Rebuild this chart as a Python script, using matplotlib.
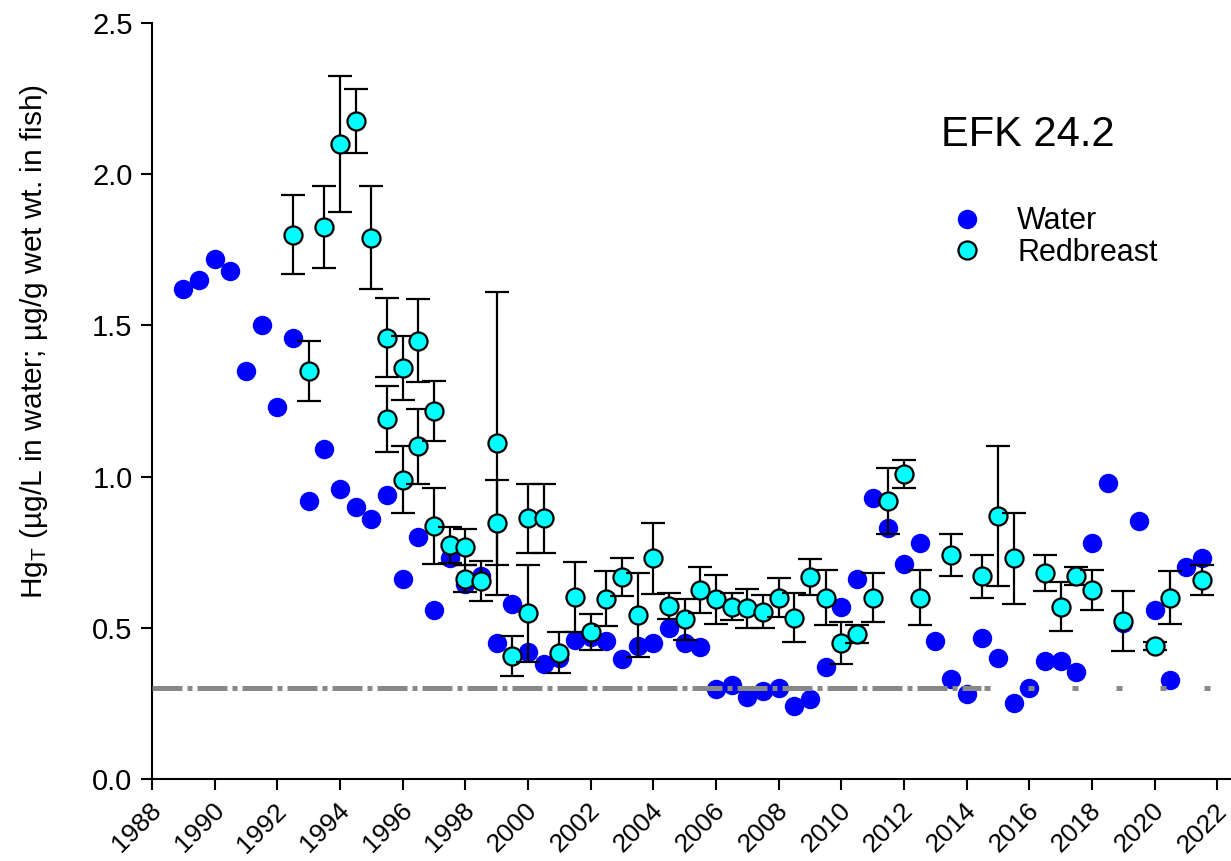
import matplotlib
matplotlib.use("Agg")
import matplotlib.pyplot as plt
import matplotlib.transforms as mtransforms
from matplotlib.lines import Line2D

# fonte parecida com Arial
plt.rcParams['font.family'] = ['Liberation Sans', 'DejaVu Sans']
plt.rcParams['mathtext.fontset'] = 'custom'
plt.rcParams['mathtext.rm'] = 'Liberation Sans'
plt.rcParams['mathtext.it'] = 'Liberation Sans'

# agua (ug/L), amostras semestrais
water_years = [1989, 1989.5, 1990, 1990.5, 1991, 1991.5, 1992, 1992.5, 1993, 1993.5,
               1994, 1994.5, 1995, 1995.5, 1996, 1996.5, 1997, 1997.5, 1998, 1998.5,
               1999, 1999.5, 2000, 2000.5, 2001, 2001.5, 2002, 2002.5, 2003, 2003.5,
               2004, 2004.5, 2005, 2005.5, 2006, 2006.5, 2007, 2007.5, 2008, 2008.5,
               2009, 2009.5, 2010, 2010.5, 2011, 2011.5, 2012, 2012.5, 2013, 2013.5,
               2014, 2014.5, 2015, 2015.5, 2016, 2016.5, 2017, 2017.5, 2018, 2018.5,
               2019, 2019.5, 2020, 2020.5, 2021, 2021.5]
water_hg = [1.62, 1.65, 1.72, 1.68, 1.35, 1.50, 1.23, 1.46, 0.92, 1.09,
            0.96, 0.90, 0.86, 0.94, 0.66, 0.80, 0.56, 0.73, 0.645, 0.67,
            0.45, 0.58, 0.42, 0.38, 0.40, 0.46, 0.47, 0.456, 0.397, 0.44,
            0.45, 0.50, 0.45, 0.435, 0.297, 0.31, 0.27, 0.29, 0.30, 0.24,
            0.265, 0.37, 0.57, 0.66, 0.93, 0.83, 0.71, 0.78, 0.457, 0.33,
            0.28, 0.466, 0.40, 0.25, 0.30, 0.39, 0.39, 0.354, 0.78, 0.98,
            0.515, 0.853, 0.56, 0.327, 0.70, 0.73]

# redbreast sunfish (ug/g peso umido), media e erro padrao
fish_years = [1992.5, 1993, 1993.5, 1994, 1994.5, 1995, 1995.5, 1995.5, 1996, 1996,
              1996.5, 1996.5, 1997, 1997, 1997.5, 1998, 1998, 1998.5, 1999, 1999,
              1999.5, 2000, 2000, 2000.5, 2001, 2001.5, 2002, 2002.5, 2003, 2003.5,
              2004, 2004.5, 2005, 2005.5, 2006, 2006.5, 2007, 2007.5, 2008, 2008.5,
              2009, 2009.5, 2010, 2010.5, 2011, 2011.5, 2012, 2012.5, 2013.5, 2014.5,
              2015, 2015.5, 2016.5, 2017, 2017.5, 2018, 2019, 2020, 2020.5, 2021.5]
fish_hg = [1.80, 1.35, 1.826, 2.10, 2.176, 1.79, 1.46, 1.19, 1.36, 0.99,
           1.45, 1.10, 1.217, 0.836, 0.774, 0.768, 0.663, 0.655, 1.11, 0.848,
           0.407, 0.862, 0.548, 0.862, 0.418, 0.603, 0.487, 0.597, 0.669, 0.542,
           0.73, 0.572, 0.528, 0.625, 0.594, 0.57, 0.564, 0.553, 0.60, 0.534,
           0.669, 0.60, 0.45, 0.48, 0.60, 0.92, 1.01, 0.60, 0.74, 0.67,
           0.87, 0.73, 0.682, 0.57, 0.671, 0.625, 0.522, 0.44, 0.60, 0.658]
fish_err = [0.13, 0.10, 0.135, 0.225, 0.105, 0.17, 0.13, 0.11, 0.106, 0.11,
            0.138, 0.125, 0.10, 0.125, 0.06, 0.06, 0.045, 0.067, 0.50, 0.14,
            0.065, 0.113, 0.16, 0.113, 0.067, 0.116, 0.06, 0.09, 0.063, 0.14,
            0.118, 0.043, 0.068, 0.077, 0.08, 0.045, 0.064, 0.054, 0.064, 0.08,
            0.06, 0.09, 0.07, 0.03, 0.08, 0.11, 0.046, 0.09, 0.07, 0.07,
            0.23, 0.15, 0.06, 0.08, 0.03, 0.067, 0.10, 0.014, 0.088, 0.05]

# linha de referencia
ref_level = 0.3
ref_dashdot = [1988, 2014.45]
ref_dotted = [2014.55, 2021.75]

xticks = list(range(1988, 2023, 2))
yticks = [0.0, 0.5, 1.0, 1.5, 2.0, 2.5]

fig = plt.figure(figsize=(12.31, 8.61), dpi=100)
ax = fig.add_axes([0.1235, 0.0952, 0.8757, 0.878])

ax.plot(water_years, water_hg, 'o', color='#0000FF', markersize=14,
        markeredgewidth=0, zorder=2)

ax.plot(ref_dashdot, [ref_level, ref_level], color='#888888', lw=3.6,
        dashes=(6.0, 1.0, 1.0, 1.0), zorder=3)
ax.plot(ref_dotted, [ref_level, ref_level], color='#888888', lw=3.6,
        dashes=(1.2, 7.6), zorder=3)

# cada ponto na ordem, assim as barras seguintes ficam por cima
for i in range(len(fish_years)):
    ax.errorbar(fish_years[i], fish_hg[i], yerr=fish_err[i], fmt='o',
                color='#00FFFF', markersize=13, markeredgecolor='black',
                markeredgewidth=1.6, ecolor='black', elinewidth=1.6,
                capsize=8.3, capthick=1.6, zorder=4 + 0.3 * i)

ax.set_xlim(1988, 2022.4)
ax.set_ylim(0, 2.5)
ax.set_xticks(xticks)
ax.set_yticks(yticks)
ax.set_yticklabels(['%.1f' % v for v in yticks])
ax.set_xticklabels([str(v) for v in xticks], rotation=45, ha='right',
                   rotation_mode='anchor')

for s in ['top', 'right']:
    ax.spines[s].set_visible(False)
for s in ['left', 'bottom']:
    ax.spines[s].set_linewidth(1.5)
ax.tick_params(axis='both', direction='out', length=8, width=1.5)
ax.tick_params(axis='y', labelsize=21, pad=6)
ax.tick_params(axis='x', labelsize=19, pad=6)

# empurra os rotulos do eixo x um pouco para a esquerda
deslocamento = mtransforms.ScaledTranslation(-3 / 100, 0, fig.dpi_scale_trans)
for lbl in ax.get_xticklabels():
    lbl.set_transform(lbl.get_transform() + deslocamento)

ax.set_ylabel('Hg$_\\mathregular{T}$ (µg/L in water; µg/g wet wt. in fish)',
              fontsize=21.5)
ax.yaxis.set_label_coords(-0.095, 0.579)

fig.text(941 / 1231, 1 - 146 / 861, 'EFK 24.2', fontsize=30, va='baseline')

handles = [
    Line2D([], [], ls='none', marker='o', color='#0000FF', markersize=14,
           markeredgewidth=0),
    Line2D([], [], ls='none', marker='o', markerfacecolor='#00FFFF',
           markeredgecolor='black', markersize=13, markeredgewidth=1.6),
]
fig.legend(handles, ['Water', 'Redbreast'], loc='center left',
           bbox_to_anchor=(953 / 1231, 1 - 237 / 861), frameon=False,
           fontsize=22, handlelength=0.9, handletextpad=1.2,
           labelspacing=0.05, borderpad=0, borderaxespad=0)

plt.savefig('out.png', dpi=100)
